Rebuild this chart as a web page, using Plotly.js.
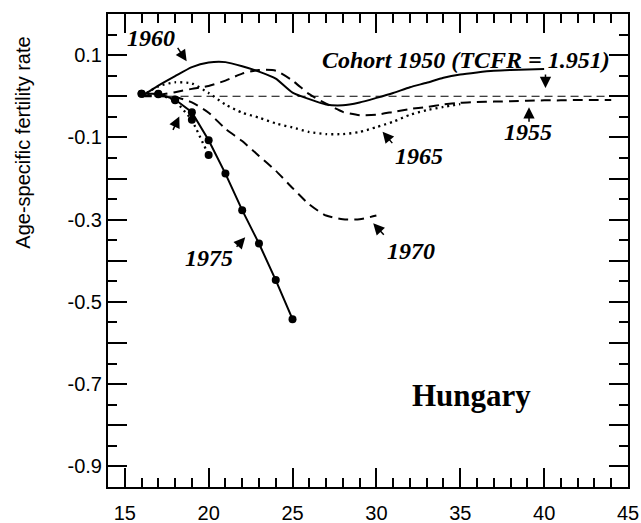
<!DOCTYPE html>
<html>
<head>
<meta charset="utf-8">
<script src="https://cdn.plot.ly/plotly-3.0.1.min.js"></script>
<style>html,body{margin:0;padding:0;background:#fff;}#chart{width:641px;height:523px;}</style>
</head>
<body>
<div id="chart"></div>
<script>
// ---- data: difference in age-specific fertility rate vs cohort 1950 ----
var ages1950 = [16, 44];
var diff1950 = [0, 0];

var ages1955 = [16,17,18,19,20,21,22,23,24,25,26,27,28,29,30,31,32,33,34,35,36,37,38,39,40,41,42,43,44];
var diff1955 = [0,0.003,0.01,0.018,0.025,0.038,0.055,0.064,0.062,0.038,0.005,-0.018,-0.038,-0.046,-0.045,-0.038,-0.031,-0.026,-0.02,-0.016,-0.014,-0.013,-0.012,-0.011,-0.01,-0.01,-0.009,-0.009,-0.009];

var ages1960 = [16,17,18,19,20,21,22,23,24,25,26,27,28,29,30,31,32,33,34,35,36,37,38,39,40];
var diff1960 = [0,0.026,0.049,0.071,0.082,0.083,0.073,0.06,0.043,0.009,-0.007,-0.02,-0.022,-0.015,-0.004,0.008,0.022,0.033,0.045,0.053,0.058,0.062,0.064,0.065,0.066];

var ages1965 = [16,17,18,19,20,21,22,23,24,25,26,27,28,29,30,31,32,33,34,35];
var diff1965 = [0,0.024,0.034,0.031,0.008,-0.02,-0.04,-0.052,-0.066,-0.076,-0.087,-0.092,-0.092,-0.087,-0.075,-0.062,-0.045,-0.034,-0.026,-0.019];

var ages1970 = [16,17,18,19,20,21,22,23,24,25,26,27,28,29,30];
var diff1970 = [0,0,-0.002,-0.015,-0.04,-0.079,-0.109,-0.145,-0.181,-0.223,-0.263,-0.29,-0.299,-0.299,-0.29];

var ages1975 = [16,17,18,19,20,21,22,23,24,25];
var diff1975 = [0.006,0.006,-0.008,-0.039,-0.107,-0.188,-0.277,-0.358,-0.447,-0.542];

var ages1980 = [16,17,18,19,20];
var diff1980 = [0.006,0.005,-0.01,-0.057,-0.143];

// tick labels
var yMajorVals = [0.2,0.1,0,-0.1,-0.2,-0.3,-0.4,-0.5,-0.6,-0.7,-0.8,-0.9];
var yMajorText = ['','0.1','','-0.1','','-0.3','','-0.5','','-0.7','','-0.9'];
var xTickVals = [15,20,25,30,35,40,45];
var xTickText = ['15','20','25','30','35','40','45'];

var K = '#000';
function tr(x, y, dash, w, shape, markers) {
  var t = {x: x, y: y, type: 'scatter', mode: markers ? 'lines+markers' : 'lines',
    line: {color: K, width: w, dash: dash, shape: shape, smoothing: 0.6},
    hoverinfo: 'skip', showlegend: false};
  if (markers) t.marker = {color: K, size: 8};
  return t;
}
var traces = [
  tr(ages1950, diff1950, '8px,5px', 1, 'linear', false),
  tr(ages1955, diff1955, '10px,6px', 2, 'spline', false),
  tr(ages1960, diff1960, 'solid', 2, 'spline', false),
  tr(ages1965, diff1965, '2px,4px', 2.3, 'spline', false),
  tr(ages1970, diff1970, '10px,6px', 2, 'spline', false),
  tr(ages1980, diff1980, '2px,4px', 2.3, 'linear', true),
  tr(ages1975, diff1975, 'solid', 2, 'linear', true)
];

var yMinor = [];
for (var v = 0.15; v > -0.95; v -= 0.1) yMinor.push(Math.round(v*100)/100);

var lab = {family: 'Liberation Serif, Times New Roman, serif', size: 24, color: K};
function txt(t, x, y, font) {
  return {text: t, x: x, y: y, xref: 'x', yref: 'y', showarrow: false,
          xanchor: 'center', yanchor: 'middle', font: font || lab};
}
function arr(x, y, ax, ay) {
  return {text: '', x: x, y: y, xref: 'x', yref: 'y', showarrow: true,
          ax: ax, ay: ay, arrowhead: 2, arrowsize: 1.5, arrowwidth: 1.5, arrowcolor: K, standoff: 0};
}

var annotations = [
  txt('<b><i>1960</i></b>', 16.55, 0.141),
  arr(18.69, 0.085, -10, -15),
  txt('<b><i>Cohort 1950 (TCFR = 1.951)</i></b>', 35.33, 0.089),
  arr(40.08, 0.020, 0, -15),
  txt('<b><i>1955</i></b>', 39.02, -0.088),
  arr(39.1, -0.027, 0, 16),
  txt('<b><i>1965</i></b>', 32.52, -0.146),
  arr(30.37, -0.086, 11, 13),
  txt('<b><i>1970</i></b>', 32.05, -0.377),
  arr(29.81, -0.309, 12, 13),
  txt('<b><i>1975</i></b>', 20.02, -0.394),
  arr(22.18, -0.343, -10, 11),
  arr(18.25, -0.049, -7, 15),
  txt('<b>Hungary</b>', 35.68, -0.727, {family: 'Liberation Serif, Times New Roman, serif', size: 31, color: K}),
  {text: 'Age-specific fertility rate', xref: 'paper', yref: 'paper', x: -0.1635, y: 0.728,
   textangle: -90, showarrow: false, xanchor: 'center', yanchor: 'middle',
   font: {family: 'Liberation Sans, Arial, sans-serif', size: 20, color: K}}
];

var layout = {
  width: 641, height: 523,
  margin: {l: 108, r: 13, t: 14, b: 36},
  paper_bgcolor: '#fff', plot_bgcolor: '#fff',
  font: {family: 'Liberation Sans, Arial, sans-serif', size: 20, color: K},
  showlegend: false,
  xaxis: {range: [14, 45], showgrid: false, zeroline: false,
    showline: true, linecolor: K, linewidth: 2, mirror: 'ticks',
    ticks: 'inside', ticklen: 19, tickwidth: 2, tickcolor: K,
    tickvals: xTickVals, ticktext: xTickText, ticklabelstandoff: 7,
    minor: {ticks: 'inside', ticklen: 9, tickwidth: 2, tickcolor: K, dtick: 1, tick0: 15, showgrid: false},
    tickfont: {size: 20}},
  yaxis: {range: [-0.95, 0.2], showgrid: false, zeroline: false,
    showline: true, linecolor: K, linewidth: 2, mirror: 'ticks',
    ticks: 'inside', ticklen: 19, tickwidth: 2, tickcolor: K,
    tickvals: yMajorVals, ticktext: yMajorText,
    minor: {ticks: 'inside', ticklen: 9, tickwidth: 2, tickcolor: K, tickvals: yMinor, showgrid: false},
    tickfont: {size: 20}},
  annotations: annotations
};

Plotly.newPlot('chart', traces, layout, {displayModeBar: false, staticPlot: true});
</script>
</body>
</html>
